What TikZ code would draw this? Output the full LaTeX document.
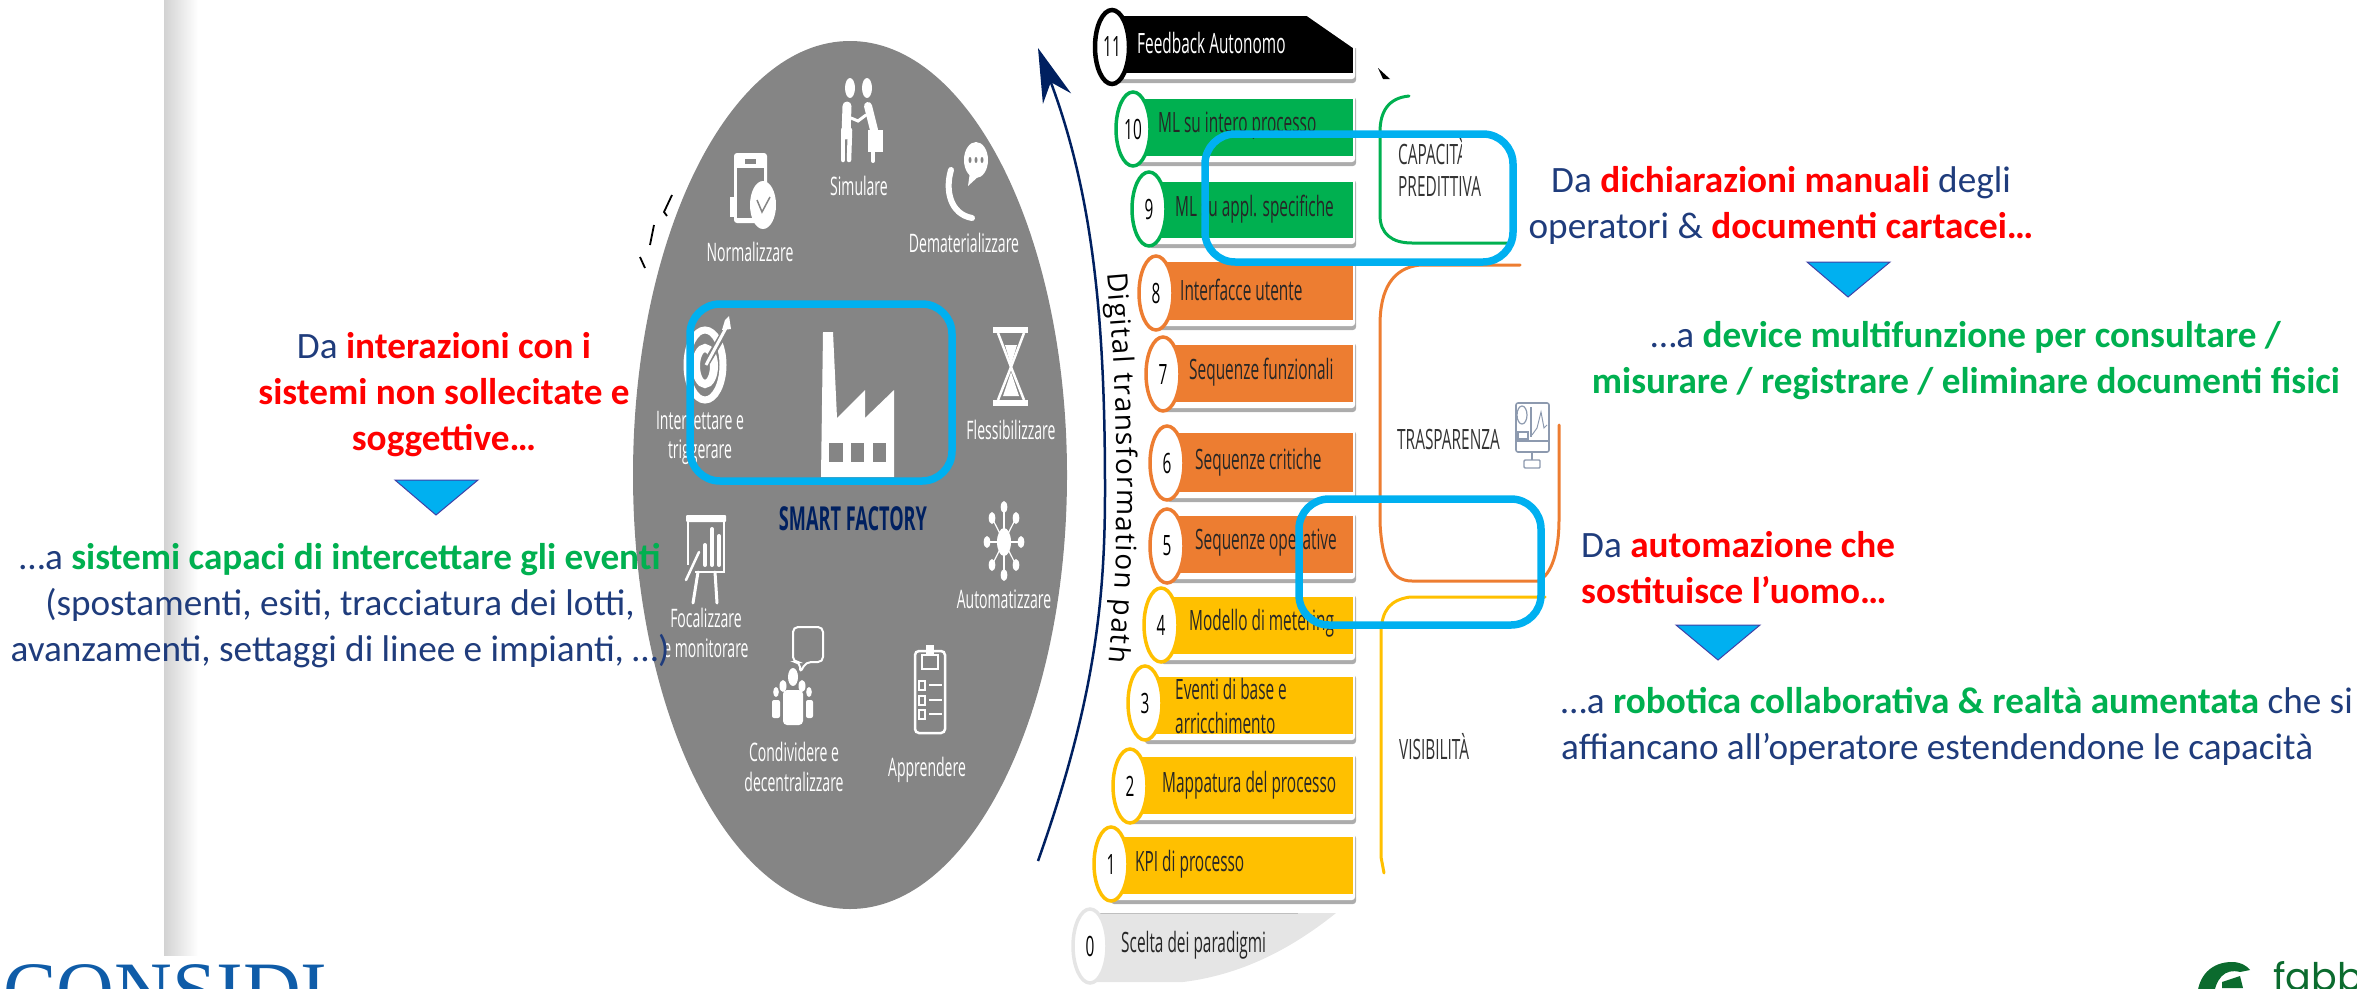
\documentclass[tikz,border=0pt]{standalone}
\usepackage{fontspec}
\setmainfont{Carlito}
\newfontfamily\narrowfont[FakeStretch=0.55]{Open Sans}
\newfontfamily\pathfont{Open Sans}
\newfontfamily\logofont{Liberation Serif}
\newfontfamily\fabfont{Poppins}
\usetikzlibrary{arrows.meta}
\usetikzlibrary{shapes.geometric}
\usetikzlibrary{decorations.text}
\definecolor{navytext}{HTML}{1F3C7C}
\definecolor{navyline}{HTML}{002060}
\definecolor{skyblue}{HTML}{00B0F0}
\definecolor{discgray}{HTML}{858585}
\definecolor{greenbar}{HTML}{00B050}
\definecolor{orangebar}{HTML}{ED7D31}
\definecolor{yellowbar}{HTML}{FFC000}
\definecolor{logoblue}{HTML}{0F5CA8}
\definecolor{logogreen}{HTML}{0B6B2E}
\definecolor{monitorgray}{HTML}{8D9AAF}
\newcommand{\rosso}[1]{\textcolor{red}{\textbf{#1}}}
\newcommand{\verde}[1]{\textcolor{greenbar}{\textbf{#1}}}
\newcommand{\StepBar}[5]{%
	\fill[gray!65, rounded corners=3pt] (#1,#2-2) rectangle (1356,#3+10);
	\fill[white, rounded corners=3pt] (#1,#2-6) rectangle (1355,#3+6);
	\fill[#4] (#1,#2) rectangle (1353,#3);
	#5
}
\begin{document}
\begin{tikzpicture}[x=1pt, y=-1pt]
	\tikzstyle{maintext}=[inner sep = 0pt, text = navytext, font = \fontsize{37.2}{46}\selectfont]
	\tikzstyle{disclabel}=[inner sep = 0pt, text = white, align = center, font = \narrowfont\fontsize{25.5}{29.5}\selectfont]
	\tikzstyle{barlabel}=[inner sep = 0pt, anchor = west, text = black!85, font = \narrowfont\fontsize{28}{34}\selectfont]
	\tikzstyle{sidelabel}=[inner sep = 0pt, anchor = west, text = black!80, font = \narrowfont\fontsize{28}{28}\selectfont]
	\tikzstyle{stepnum}=[shape = ellipse, minimum width = 34pt, minimum height = 74pt, inner sep = 0pt, line width = 3.5pt, fill = white, text = black, font = \narrowfont\fontsize{28}{28}\selectfont]
	\tikzstyle{focusbox}=[draw = skyblue, line width = 7.5pt, rounded corners = 30pt]
	\tikzstyle{downmark}=[fill = skyblue, draw = black!20!blue!50!gray, line width = 1pt]
	\tikzstyle{iconline}=[draw = white, line width = 3pt, line cap = round]
	\tikzstyle{bracketline}=[line width = 3pt, line cap = round]
	\useasboundingbox (0,0) rectangle (2357,988);
	\shade[left color = gray!35, right color = white] (164,0) rectangle (198,955);

	\fill[discgray] (850,475) ellipse [x radius = 217, y radius = 434];
	\draw[black, line width = 1.8pt] (672,195) -- (664,212) -- (667,216);
	\draw[black, line width = 1.8pt] (654,225) -- (650,245);
	\draw[black, line width = 1.8pt] (640,257) -- (645,268);

	\fill[white] (850,88) ellipse [x radius = 5, y radius = 10];
	\fill[white] (867,88) ellipse [x radius = 5, y radius = 10];
	\draw[iconline, line width = 9pt] (847,106) -- (846,135);
	\draw[iconline, line width = 4.5pt] (843,130) -- (843,160);
	\draw[iconline, line width = 4.5pt] (850,130) -- (849,160);
	\draw[iconline, line width = 8pt] (868,106) -- (874,130);
	\draw[iconline, line width = 3pt] (851,118) -- (858,121) -- (866,115);
	\fill[white] (868,130) rectangle (883,152);
	\draw[iconline, line width = 4pt] (873,152) -- (873,161);

	\fill[white, rounded corners = 3pt] (734,153) rectangle (767,223);
	\fill[discgray] (737,168) rectangle (764,218);
	\fill[discgray] (745,159) rectangle (756,164);
	\fill[white] (730,197) rectangle (737,217);
	\fill[white] (763,205) ellipse [x radius = 13, y radius = 24];
	\draw[discgray, line width = 1.5pt] (757,200) -- (762,212) -- (770,197);

	\draw[iconline, line width = 6pt] (951,170) .. controls (945,190) and (950,214) .. (972,218);
	\fill[white] (976,160) ellipse [x radius = 12, y radius = 18];
	\fill[white] (970,172) -- (968,186) -- (980,175) -- cycle;
	\fill[discgray] (970,160) ellipse [x radius = 1.5, y radius = 3];
	\fill[discgray] (976,160) ellipse [x radius = 1.5, y radius = 3];
	\fill[discgray] (982,160) ellipse [x radius = 1.5, y radius = 3];

	\draw[white, line width = 7pt] (705,365) ellipse [x radius = 18, y radius = 35];
	\draw[white, line width = 8pt] (705,366) ellipse [x radius = 9, y radius = 18];
	\draw[discgray, line width = 7pt] (707,362) -- (726,330);
	\draw[white, line width = 3pt] (706,365) -- (726,328);
	\fill[white] (722,330) -- (725,320) -- (729,316) -- (731,329) -- cycle;

	\fill[white] (823,332) -- (833,332) -- (837,418) -- (865,390) -- (865,418) -- (894,390) -- (894,477) -- (821,477) -- cycle;
	\fill[discgray] (829,443) rectangle (843,462);
	\fill[discgray] (851,443) rectangle (864,462);
	\fill[discgray] (873,443) rectangle (886,462);

	\fill[white] (993,327) rectangle (1028,333);
	\fill[white] (993,400) rectangle (1028,406);
	\draw[white, line width = 2.5pt] (998,333) -- (1011,367) -- (998,400);
	\draw[white, line width = 2.5pt] (1024,333) -- (1011,367) -- (1024,400);
	\fill[white] (1005,345) -- (1017,345) -- (1011,365) -- cycle;
	\fill[white] (1003,396) -- (1019,396) -- (1011,372) -- cycle;

	\fill[white] (1004,542) ellipse [x radius = 7, y radius = 14];
	\draw[white, line width = 1.2pt] (1004,507) -- (1004,575);
	\draw[white, line width = 1.2pt] (987,542) -- (1021,542);
	\draw[white, line width = 1.2pt] (992,518) -- (1016,565);
	\draw[white, line width = 1.2pt] (1016,518) -- (992,565);
	\fill[white] (1004,507) ellipse [x radius = 3.3, y radius = 6];
	\fill[white] (1016,518) ellipse [x radius = 3.3, y radius = 6];
	\fill[white] (1021,542) ellipse [x radius = 3.3, y radius = 6];
	\fill[white] (1016,565) ellipse [x radius = 3.3, y radius = 6];
	\fill[white] (1004,575) ellipse [x radius = 3.3, y radius = 6];
	\fill[white] (992,565) ellipse [x radius = 3.3, y radius = 6];
	\fill[white] (987,542) ellipse [x radius = 3.3, y radius = 6];
	\fill[white] (992,518) ellipse [x radius = 3.3, y radius = 6];

	\fill[white, rounded corners = 1pt] (686,515) rectangle (726,522);
	\draw[white, line width = 1.5pt] (688,522) -- (688,565);
	\draw[white, line width = 1.5pt] (724,522) -- (724,572) -- (695,572);
	\draw[iconline, line width = 4pt] (705,565) -- (705,545);
	\draw[iconline, line width = 4pt] (712,565) -- (712,529);
	\draw[iconline, line width = 4pt] (719,565) -- (719,536);
	\draw[iconline, line width = 2.5pt] (686,580) -- (699,552);
	\draw[iconline] (698,572) -- (693,603);
	\draw[iconline] (715,572) -- (717,603);

	\draw[white, line width = 2pt, rounded corners = 5pt] (800,662) -- (793,662) -- (793,627) -- (823,627) -- (823,662) -- (806,662) -- (800,673) -- cycle;
	\fill[white] (793,677) ellipse [x radius = 5, y radius = 9];
	\fill[white, rounded corners = 4pt] (783,690) rectangle (803,725);
	\fill[white] (783,686) ellipse [x radius = 3.5, y radius = 6];
	\fill[white] (802,686) ellipse [x radius = 3.5, y radius = 6];
	\fill[white] (776,692) ellipse [x radius = 2.8, y radius = 5];
	\fill[white] (809,692) ellipse [x radius = 2.8, y radius = 5];
	\fill[white, rounded corners = 2pt] (772,700) rectangle (780,718);
	\fill[white, rounded corners = 2pt] (806,700) rectangle (813,718);

	\draw[white, line width = 2.5pt, rounded corners = 4pt] (915,651) rectangle (945,733);
	\draw[white, line width = 2.5pt] (922,655) rectangle (938,669);
	\fill[white] (926,645) rectangle (934,655);
	\draw[white, line width = 1.2pt] (919,681) rectangle (925,690);
	\draw[white, line width = 1.2pt] (919,696) rectangle (925,705);
	\draw[white, line width = 1.2pt] (919,710) rectangle (925,719);
	\draw[white, line width = 1.5pt] (929,685) -- (942,685);
	\draw[white, line width = 1.5pt] (929,700) -- (942,700);
	\draw[white, line width = 1.5pt] (929,714) -- (942,714);

	\node[disclabel] (simulare) at (859,186) {Simulare};
	\node[disclabel] (normalizzare) at (750,252) {Normalizzare};
	\node[disclabel] (dematerializzare) at (964,243) {Dematerializzare};
	\node[disclabel] (intercettare) at (700,438) {Intercettare e\\triggerare};
	\node[disclabel] (flessibilizzare) at (1011,430) {Flessibilizzare};
	\node[disclabel, text = navyline, font = \narrowfont\bfseries\fontsize{33}{33}\selectfont] (smartfactory) at (853,519) {SMART FACTORY};
	\node[disclabel] (automatizzare) at (1004,599) {Automatizzare};
	\node[disclabel] (focalizzare) at (706,633) {Focalizzare\\e monitorare};
	\node[disclabel] (condividere) at (794,767) {Condividere e\\decentralizzare};
	\node[disclabel] (apprendere) at (927,770) {Apprendere};

	\coordinate (pathstart) at (1038,861);
	\coordinate (pathmid) at (1105,490);
	\coordinate (pathtip) at (1038,48);
	\draw[navyline, line width = 2.5pt, -{Stealth[length = 54pt, width = 30pt]}] (pathstart) .. controls (1095,700) and (1105,600) .. (pathmid) .. controls (1105,330) and (1095,200) .. (pathtip);
	\path[decorate, decoration = {text along path, text = {|\pathfont\fontsize{28}{28}\selectfont|Digital transformation path}, text align = {fit to path}}] (1107,273) .. controls (1118,400) and (1122,530) .. (1109,662);

	\StepBar{1112}{16}{73}{black}{\fill[white] (1304,14) -- (1358,14) -- (1358,48) -- (1353,48) -- cycle;}
	\StepBar{1133}{99}{156}{greenbar}{}
	\StepBar{1149}{182}{238}{greenbar}{}
	\StepBar{1156}{262}{320}{orangebar}{}
	\StepBar{1163}{345}{402}{orangebar}{}
	\StepBar{1167}{433}{492}{orangebar}{}
	\StepBar{1167}{516}{573}{orangebar}{}
	\StepBar{1161}{597}{654}{yellowbar}{}
	\StepBar{1145}{677}{734}{yellowbar}{}
	\StepBar{1130}{757}{814}{yellowbar}{}
	\StepBar{1111}{837}{894}{yellowbar}{}
	\fill[gray!20] (1090,913) -- (1336,913) .. controls (1290,950) and (1240,975) .. (1183,982) -- (1090,982) -- cycle;
	\draw[gray!50, line width = 0.6pt] (1090,913) -- (1298,913);

	\node[stepnum, draw = black, line width = 4.5pt] (n11) at (1112,47) {11};
	\node[stepnum, draw = greenbar] (n10) at (1133,129) {10};
	\node[stepnum, draw = greenbar] (n9) at (1149,209) {9};
	\node[stepnum, draw = orangebar] (n8) at (1156,293) {8};
	\node[stepnum, draw = orangebar] (n7) at (1163,374) {7};
	\node[stepnum, draw = orangebar] (n6) at (1167,463) {6};
	\node[stepnum, draw = orangebar] (n5) at (1167,546) {5};
	\node[stepnum, draw = yellowbar] (n4) at (1161,625) {4};
	\node[stepnum, draw = yellowbar] (n3) at (1145,703) {3};
	\node[stepnum, draw = yellowbar] (n2) at (1130,786) {2};
	\node[stepnum, draw = yellowbar] (n1) at (1111,864) {1};
	\node[stepnum, draw = gray!20] (n0) at (1090,946) {0};

	\node[barlabel, text = white] (t11) at (1137,43) {Feedback Autonomo};
	\node[barlabel] (t10) at (1158,126) {ML su intero processo};
	\node[barlabel] (t9) at (1175,209) {ML su appl. specifiche};
	\node[barlabel] (t8) at (1180,290) {Interfacce utente};
	\node[barlabel] (t7) at (1189,372) {Sequenze funzionali};
	\node[barlabel] (t6) at (1195,462) {Sequenze critiche};
	\node[barlabel] (t5) at (1195,543) {Sequenze operative};
	\node[barlabel] (t4) at (1189,623) {Modello di metering};
	\node[barlabel, align = left] (t3) at (1175,706) {Eventi di base e\\arricchimento};
	\node[barlabel] (t2) at (1162,785) {Mappatura del processo};
	\node[barlabel] (t1) at (1135,864) {KPI di processo};
	\node[barlabel] (t0) at (1121,945) {Scelta dei paradigmi};

	\fill[black] (1378,68) -- (1390,79) -- (1383,79) -- cycle;
	\draw[greenbar, bracketline] (1409,96) .. controls (1388,98) and (1380,112) .. (1380,132) -- (1380,215) .. controls (1380,234) and (1392,243) .. (1412,243) -- (1510,243);
	\draw[orangebar, bracketline] (1520,265) -- (1420,265) .. controls (1392,268) and (1380,290) .. (1380,325) -- (1380,523) .. controls (1382,560) and (1390,581) .. (1412,581) -- (1538,581) .. controls (1552,575) and (1559,550) .. (1559,520) -- (1559,425);
	\draw[yellowbar, bracketline] (1545,597) -- (1410,597) .. controls (1390,600) and (1382,610) .. (1381,632) -- (1381,857) -- (1384,873);

	\node[sidelabel] (capaci) at (1398,152) {CAPACITÀ};
	\node[sidelabel] (predittiva) at (1398,186) {PREDITTIVA};
	\fill[white] (1462,140) rectangle (1500,166);
	\fill[white] (1485,172) rectangle (1500,200);
	\node[sidelabel] (trasparenza) at (1397,439) {TRASPARENZA};
	\node[sidelabel] (visibilita) at (1399,747) {VISIBILITÀ};

	\draw[monitorgray, line width = 1.6pt, rounded corners = 2pt] (1516,403) rectangle (1549,452);
	\draw[monitorgray, line width = 1.4pt] (1516,441) -- (1549,441);
	\draw[monitorgray, line width = 1.4pt] (1531,407) -- (1531,437);
	\draw[monitorgray, line width = 1.2pt] (1522,415) ellipse [x radius = 5, y radius = 9];
	\draw[monitorgray, line width = 1.2pt] (1518,432) rectangle (1528,439);
	\draw[monitorgray, line width = 1pt] (1532,435) -- (1537,428) -- (1541,412) -- (1544,428) -- (1547,425);
	\draw[monitorgray, line width = 1.4pt] (1532,452) -- (1532,460);
	\draw[monitorgray, line width = 1.4pt, rounded corners = 1pt] (1524,460) rectangle (1540,468);

	\node[maintext, align = center] (leftfrom) at (444,395) {Da \rosso{interazioni con i}\\\rosso{sistemi non sollecitate e}\\\rosso{soggettive…}};
	\node[maintext, align = center] (leftto) at (340,606) {…a \verde{sistemi capaci di intercettare gli eventi}\\(spostamenti, esiti, tracciatura dei lotti,\\avanzamenti, settaggi di linee e impianti, …)};
	\node[maintext, align = center] (topfrom) at (1781,205) {Da \rosso{dichiarazioni manuali} degli\\operatori \& \rosso{documenti cartacei…}};
	\node[maintext, align = center] (topto) at (1966,361) {…a \verde{device multifunzione per consultare /}\\\verde{misurare / registrare / eliminare documenti fisici}};
	\node[maintext, align = left, anchor = west] (midfrom) at (1581,568) {Da \rosso{automazione che}\\\rosso{sostituisce l’uomo…}};
	\node[maintext, align = left, anchor = west] (midto) at (1561,726) {…a \verde{robotica collaborativa \& realtà aumentata} che si\\affiancano all’operatore estendendone le capacità};

	\draw[downmark] (395,480) -- (478,480) -- (436,515) -- cycle;
	\draw[downmark] (1807,262) -- (1890,262) -- (1848,297) -- cycle;
	\draw[downmark] (1676,625) -- (1760,625) -- (1718,660) -- cycle;

	\draw[focusbox] (690,304) rectangle (952,481);
	\draw[focusbox] (1205,134) rectangle (1513,262);
	\draw[focusbox] (1299,499) rectangle (1541,625);

	\node[inner sep = 0pt, anchor = base west, text = logoblue, font = \logofont\fontsize{80}{80}\selectfont] (considi) at (3,1017) {CONSIDI};
	\fill[logogreen] (2197,1000) .. controls (2197,975) and (2212,962) .. (2232,962) .. controls (2240,962) and (2246,965) .. (2250,970) -- (2240,972) .. controls (2225,968) and (2215,978) .. (2213,1000) -- cycle;
	\fill[logogreen] (2222,982) -- (2240,976) -- (2243,988) -- (2222,988) -- cycle;
	\node[inner sep = 0pt, anchor = base west, text = logogreen, font = \fabfont\fontsize{38}{38}\selectfont] (fabb) at (2273,990) {fabb};
\end{tikzpicture}
\end{document}
